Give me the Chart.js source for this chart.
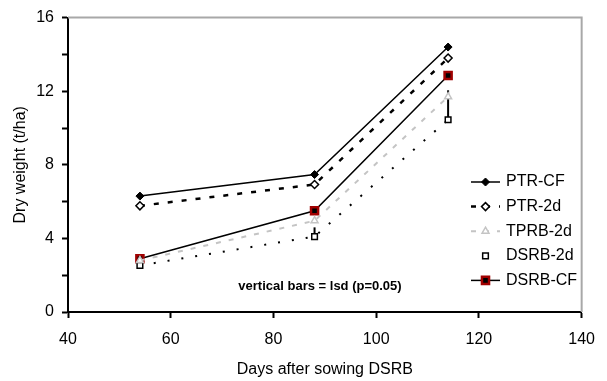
<!DOCTYPE html>
<html>
<head>
<meta charset="utf-8">
<script src="https://cdn.jsdelivr.net/npm/chart.js@4/dist/chart.umd.min.js"></script>
<style>
  html, body { margin: 0; padding: 0; background: #fff; }
  #wrap { width: 607px; height: 381px; }
</style>
</head>
<body>
<div id="wrap"><canvas id="chartDry"></canvas></div>
<script>
// Dias após semeadura
const days = [54, 88, 114];

// Peso seco (t/ha) por tratamento
const ptrCF = [6.3, 7.47, 14.4];
const ptr2d = [5.77, 6.93, 13.8];
const tprb2d = [2.8, 4.96, 11.7];
const dsrb2d = [2.53, 4.1, 10.45];
const dsrbCF = [2.89, 5.5, 12.85];

// Barras verticais = lsd (p=0.05)
const lsd = [0.3, 0.5, 1.6];

const yTicks = [0, 4, 8, 12, 16];
const noteText = 'vertical bars = lsd (p=0.05)';

const pts = arr => days.map((d, i) => ({ x: d, y: arr[i] }));
const FONT = "'Liberation Sans', Arial, sans-serif";

// Bordas cinza (topo e direita), nota e barras lsd
const framePlugin = {
  id: 'frame',
  beforeDatasetsDraw(chart) {
    const { ctx, chartArea: a, scales } = chart;
    ctx.save();
    ctx.strokeStyle = '#a8a8a8';
    ctx.lineWidth = 2;
    ctx.beginPath();
    ctx.moveTo(a.left, a.top);
    ctx.lineTo(a.right, a.top);
    ctx.lineTo(a.right, a.bottom);
    ctx.stroke();

    // lsd: a partir do ponto DSRB-2d para cima
    ctx.strokeStyle = '#000';
    ctx.lineWidth = 2;
    days.forEach((d, i) => {
      const x = scales.x.getPixelForValue(d);
      ctx.beginPath();
      ctx.moveTo(x, scales.y.getPixelForValue(dsrb2d[i]));
      ctx.lineTo(x, scales.y.getPixelForValue(dsrb2d[i] + lsd[i]));
      ctx.stroke();
    });

    ctx.fillStyle = '#000';
    ctx.font = 'bold 13px ' + FONT;
    ctx.textAlign = 'center';
    ctx.textBaseline = 'middle';
    ctx.fillText(noteText, 320, 286);
    ctx.restore();
  },
  afterDraw(chart) {
    // Legenda dentro da área do gráfico
    const { ctx } = chart;
    const x0 = 471, x1 = 500, tx = 506;
    const y0 = 182, step = 24.6;
    ctx.save();
    chart.data.datasets.forEach((ds, i) => {
      const y = y0 + i * step;
      if (ds.legendLine !== false) {
        ctx.strokeStyle = ds.borderColor;
        ctx.lineWidth = ds.borderWidth;
        ctx.setLineDash(ds.borderDash || []);
        ctx.beginPath();
        ctx.moveTo(x0, y);
        ctx.lineTo(x1, y);
        ctx.stroke();
        ctx.setLineDash([]);
      }
      ctx.fillStyle = ds.pointBackgroundColor;
      ctx.strokeStyle = ds.pointBorderColor;
      ctx.lineWidth = ds.pointBorderWidth;
      Chart.helpers.drawPoint(ctx, {
        pointStyle: ds.pointStyle,
        radius: ds.pointRadius,
        rotation: 0,
        borderWidth: ds.pointBorderWidth
      }, (x0 + x1) / 2, y);
      ctx.fillStyle = '#000';
      ctx.font = '16px ' + FONT;
      ctx.textAlign = 'left';
      ctx.textBaseline = 'middle';
      ctx.fillText(ds.label, tx, y);
    });
    ctx.restore();
  }
};

new Chart(document.getElementById('chartDry'), {
  type: 'line',
  data: {
    datasets: [
      {
        label: 'PTR-CF',
        data: pts(ptrCF),
        borderColor: '#000',
        borderWidth: 1.5,
        pointStyle: 'rectRot',
        pointRadius: 4,
        pointBackgroundColor: '#000',
        pointBorderColor: '#000',
        pointBorderWidth: 1
      },
      {
        label: 'PTR-2d',
        data: pts(ptr2d),
        borderColor: '#000',
        borderWidth: 2.5,
        borderDash: [5, 9],
        pointStyle: 'rectRot',
        pointRadius: 4,
        pointBackgroundColor: '#fff',
        pointBorderColor: '#000',
        pointBorderWidth: 1.5
      },
      {
        label: 'TPRB-2d',
        data: pts(tprb2d),
        borderColor: '#c4c4c4',
        borderWidth: 2,
        borderDash: [5, 8],
        pointStyle: 'triangle',
        pointRadius: 4,
        pointBackgroundColor: '#fff',
        pointBorderColor: '#c4c4c4',
        pointBorderWidth: 1.5
      },
      {
        label: 'DSRB-2d',
        data: pts(dsrb2d),
        borderColor: '#000',
        borderWidth: 2,
        borderDash: [2, 12],
        legendLine: false,
        pointStyle: 'rect',
        pointRadius: 4,
        pointBackgroundColor: '#fff',
        pointBorderColor: '#000',
        pointBorderWidth: 1.5
      },
      {
        label: 'DSRB-CF',
        data: pts(dsrbCF),
        borderColor: '#000',
        borderWidth: 1.5,
        pointStyle: 'rect',
        pointRadius: 5,
        pointBackgroundColor: '#000',
        pointBorderColor: '#a00000',
        pointBorderWidth: 2.5
      }
    ]
  },
  options: {
    responsive: true,
    maintainAspectRatio: false,
    animation: false,
    layout: { padding: { top: 15, right: 11, left: 0, bottom: 0 } },
    scales: {
      x: {
        type: 'linear',
        min: 40,
        max: 140,
        ticks: {
          stepSize: 20,
          color: '#000',
          padding: 12,
          font: { family: FONT, size: 16 },
          maxRotation: 0
        },
        grid: { drawOnChartArea: false, drawTicks: true, tickLength: 6, tickColor: '#000', tickWidth: 2 },
        border: { color: '#000', width: 2 },
        title: { display: true, text: 'Days after sowing DSRB', color: '#000', font: { family: FONT, size: 16 }, padding: { top: 0, bottom: 2 } },
        afterFit: s => { s.height = 69; }
      },
      y: {
        min: 0,
        max: 16,
        ticks: {
          stepSize: 2,
          color: '#000',
          padding: 8,
          font: { family: FONT, size: 16 },
          callback: v => yTicks.includes(v) ? v : ''
        },
        grid: { drawOnChartArea: false, drawTicks: true, tickLength: 6, tickColor: '#000', tickWidth: 2 },
        border: { color: '#000', width: 2 },
        title: { display: true, text: 'Dry weight (t/ha)', color: '#000', font: { family: FONT, size: 16 }, padding: { top: 11, bottom: 0 } },
        afterFit: s => { s.width = 68; }
      }
    },
    plugins: {
      legend: { display: false },
      tooltip: { enabled: false }
    }
  },
  plugins: [framePlugin]
});
</script>
</body>
</html>
